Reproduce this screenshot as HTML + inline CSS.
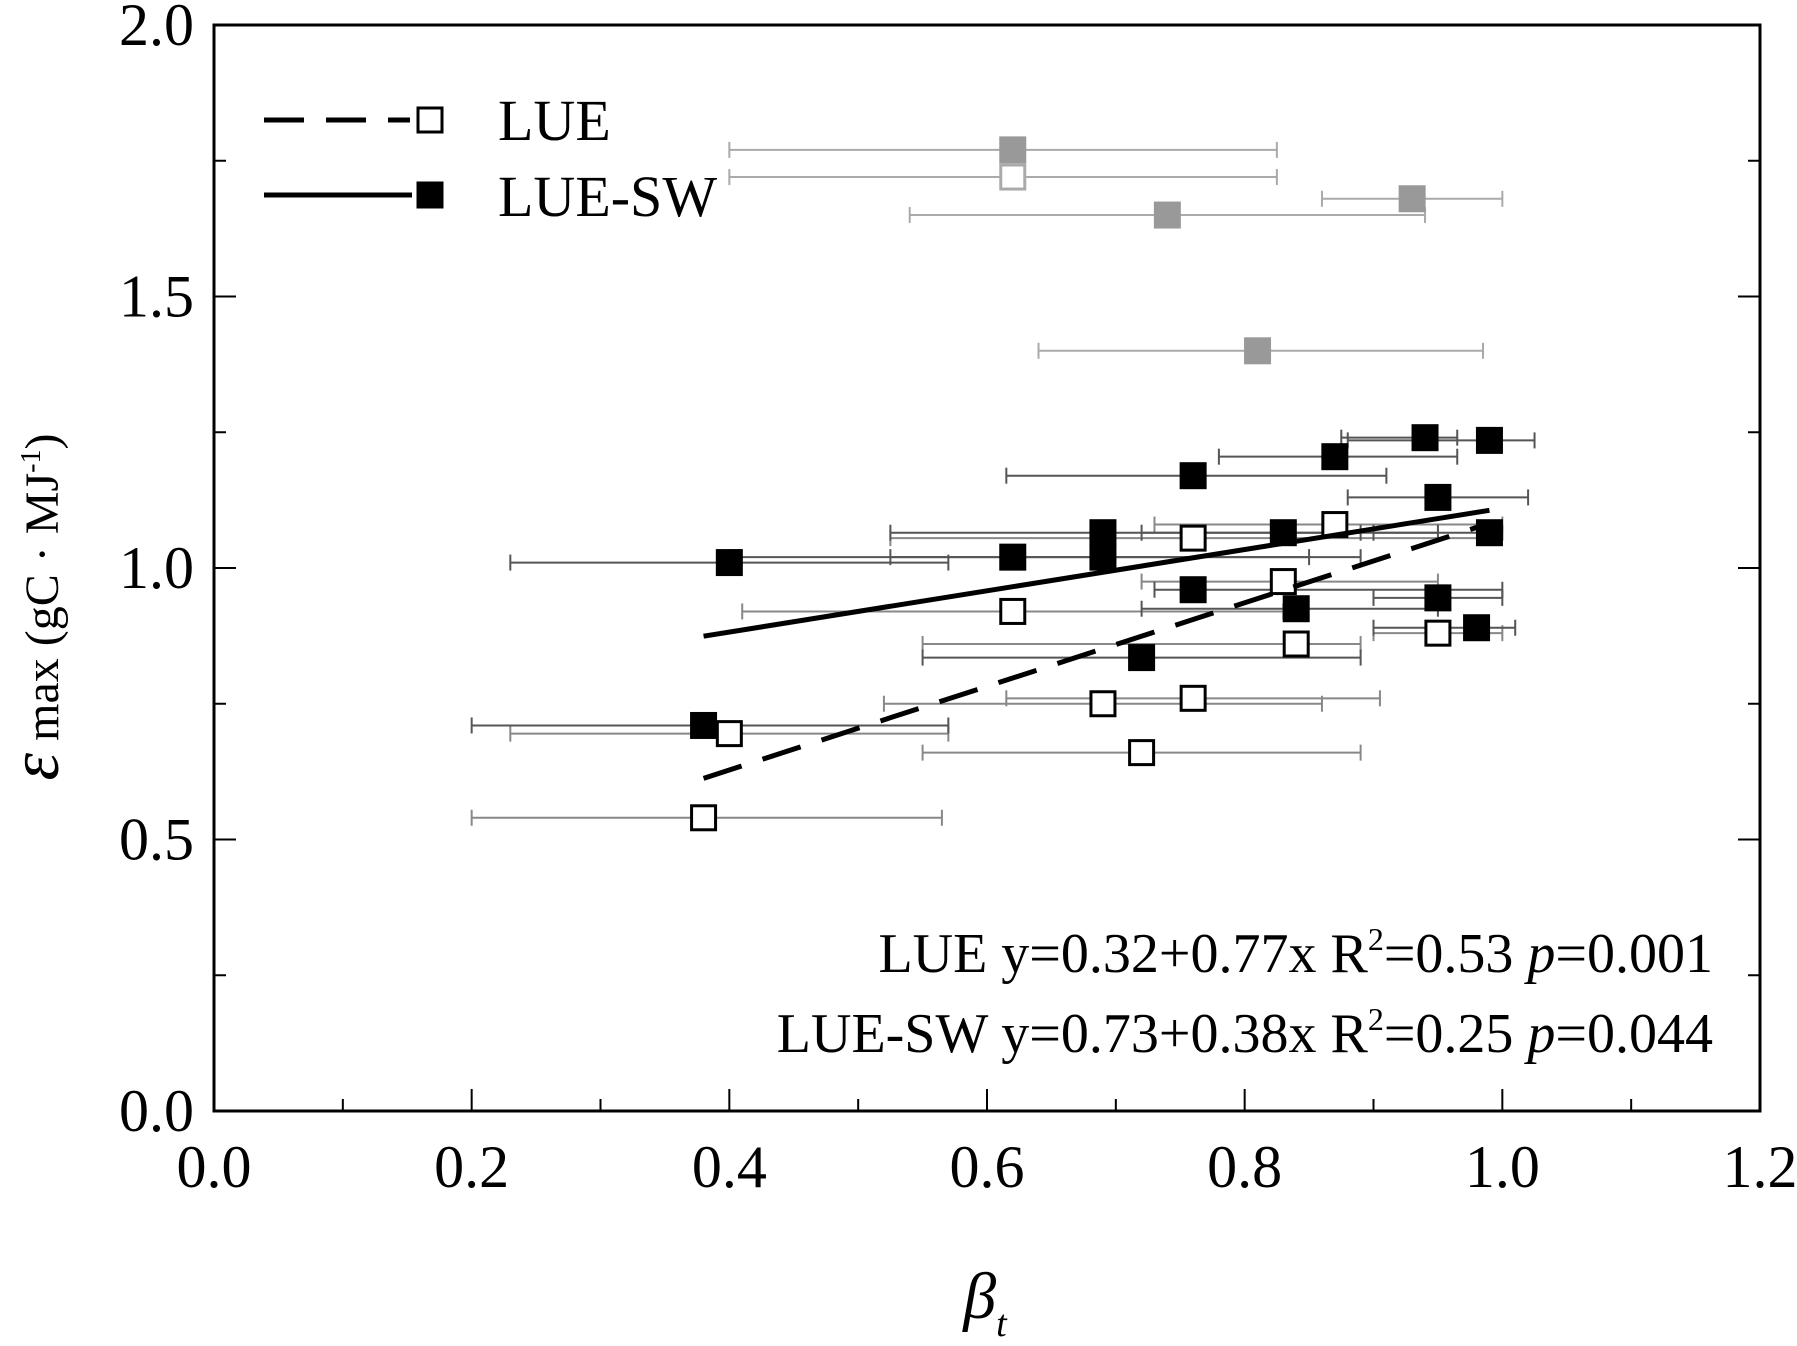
<!DOCTYPE html>
<html><head><meta charset="utf-8"><style>
html,body{margin:0;padding:0;background:#fff;}
svg{display:block;font-family:"Liberation Serif",serif;}
</style></head><body>
<svg id="chart" width="1797" height="1346" viewBox="0 0 1797 1346" xmlns="http://www.w3.org/2000/svg">
<g id="axes"></g>
<g id="marks"></g>
<g id="legend">
  <line x1="264" y1="120" x2="410" y2="120" stroke="#000" stroke-width="5" stroke-dasharray="40,22"/>
  <rect x="418" y="108" width="24" height="24" fill="#fff" stroke="#000" stroke-width="3"/>
  <text x="498" y="140" font-size="58">LUE</text>
  <line x1="264" y1="195" x2="412" y2="195" stroke="#000" stroke-width="5"/>
  <rect x="418" y="183" width="24" height="24" fill="#000" stroke="#000" stroke-width="3"/>
  <text x="498" y="216" font-size="58">LUE-SW</text>
</g>
<g font-size="56" text-anchor="end">
  <text x="1713" y="972">LUE y=0.32+0.77x R<tspan font-size="32" dy="-22">2</tspan><tspan dy="22">=0.53 </tspan><tspan font-style="italic">p</tspan>=0.001</text>
  <text x="1713" y="1052">LUE-SW y=0.73+0.38x R<tspan font-size="32" dy="-22">2</tspan><tspan dy="22">=0.25 </tspan><tspan font-style="italic">p</tspan>=0.044</text>
</g>
<text x="985" y="1318" font-size="66" font-style="italic" text-anchor="middle">β<tspan font-size="38" dy="18">t</tspan></text>
<g transform="translate(58 607) rotate(-90)">
  <text x="0" y="0" text-anchor="middle" font-size="48"><tspan font-size="70" font-style="italic">ε</tspan><tspan> max (gC · MJ</tspan><tspan font-size="28" dy="-18">-1</tspan><tspan dy="18">)</tspan></text>
</g>
</svg>
<script>
const xTicks=[0.0,0.2,0.4,0.6,0.8,1.0,1.2];
const yTicks=[0.0,0.5,1.0,1.5,2.0];
// LUE (open squares)
const lueX=[0.38,0.40,0.62,0.69,0.76,0.72,0.76,0.83,0.84,0.87,0.95];
const lueY=[0.54,0.695,0.92,0.75,0.76,0.66,1.055,0.975,0.86,1.08,0.88];
const lueLo=[0.20,0.23,0.41,0.52,0.615,0.55,0.525,0.72,0.55,0.73,0.90];
const lueHi=[0.565,0.57,0.83,0.86,0.905,0.89,0.99,0.95,0.89,1.0,1.0];
// LUE-SW (filled squares)
const swX=[0.38,0.40,0.62,0.69,0.69,0.72,0.76,0.76,0.83,0.84,0.87,0.94,0.99,0.95,0.99,0.95,0.98];
const swY=[0.71,1.01,1.02,1.065,1.02,0.835,1.17,0.96,1.065,0.925,1.205,1.24,1.235,1.13,1.065,0.945,0.89];
const swLo=[0.20,0.23,0.40,0.525,0.525,0.55,0.615,0.73,0.72,0.72,0.78,0.875,0.88,0.88,0.90,0.90,0.90];
const swHi=[0.57,0.57,0.85,0.89,0.89,0.89,0.91,1.0,0.95,0.95,0.965,0.965,1.025,1.02,1.0,1.0,1.01];
// outliers (gray)
const grayX=[0.62,0.74,0.93,0.81,0.62];
const grayY=[1.77,1.65,1.68,1.40,1.72];
const grayLo=[0.40,0.54,0.86,0.64,0.40];
const grayHi=[0.825,0.94,1.0,0.985,0.825];
const grayOpen=[false,false,false,false,true];
const lueFit=[0.32,0.77], swFit=[0.73,0.38], fitRange=[0.38,0.99];

const X0=214,X1=1760,Y0=1111,Y1=25;
const sx=v=>X0+(v-0)/1.2*(X1-X0);
const sy=v=>Y0-(v-0)/2.0*(Y0-Y1);
const NS='http://www.w3.org/2000/svg';
const axes=document.getElementById('axes'), marks=document.getElementById('marks');
function mk(tag,attrs,parent){const e=document.createElementNS(NS,tag);for(const k in attrs)e.setAttribute(k,attrs[k]);parent.appendChild(e);return e;}

let frame=mk('rect',{x:X0,y:Y1,width:X1-X0,height:Y0-Y1,fill:'none',stroke:'#000','stroke-width':3},axes);


for(let i=0;i<xTicks.length;i++){
  const v=xTicks[i];
  const t=mk('line',{x1:sx(v),x2:sx(v),y1:Y0,y2:Y0-22,stroke:'#000','stroke-width':2},axes);
  
  
  if(i<xTicks.length-1){const m=mk('line',{x1:sx(v+0.1),x2:sx(v+0.1),y1:Y0,y2:Y0-12,stroke:'#000','stroke-width':2},axes);
  
  }
  const l=mk('text',{x:sx(v),y:Y0+76,'font-size':60,'text-anchor':'middle'},axes);
  l.textContent=v.toFixed(1);
  
  
}
for(let i=0;i<yTicks.length;i++){
  const v=yTicks[i];
  [[X0,X0+22],[X1,X1-22]].forEach(p=>{const t=mk('line',{x1:p[0],x2:p[1],y1:sy(v),y2:sy(v),stroke:'#000','stroke-width':2},axes);
  
  });
  if(i<yTicks.length-1){[[X0,X0+12],[X1,X1-12]].forEach(p=>{const m=mk('line',{x1:p[0],x2:p[1],y1:sy(v+0.25),y2:sy(v+0.25),stroke:'#000','stroke-width':2},axes);
  
  });}
  const l=mk('text',{x:X0-20,y:sy(v)+20,'font-size':60,'text-anchor':'end'},axes);
  l.textContent=v.toFixed(1);
  
  
}
function errbar(x,lo,hi,y,col){
  const g=mk('g',{stroke:col,'stroke-width':2},marks);
  
  
  mk('line',{x1:sx(lo),x2:sx(hi),y1:sy(y),y2:sy(y)},g);
  mk('line',{x1:sx(lo),x2:sx(lo),y1:sy(y)-8,y2:sy(y)+8},g);
  mk('line',{x1:sx(hi),x2:sx(hi),y1:sy(y)-8,y2:sy(y)+8},g);
}
for(let i=0;i<grayX.length;i++) errbar(grayX[i],grayLo[i],grayHi[i],grayY[i],'#aaa');
for(let i=0;i<lueX.length;i++) errbar(lueX[i],lueLo[i],lueHi[i],lueY[i],'#888');
for(let i=0;i<swX.length;i++) errbar(swX[i],swLo[i],swHi[i],swY[i],'#555');
function fitLine(f,dash,name){
  const l=mk('line',{x1:sx(fitRange[0]),y1:sy(f[0]+f[1]*fitRange[0]),x2:sx(fitRange[1]),y2:sy(f[0]+f[1]*fitRange[1]),stroke:'#000','stroke-width':5},marks);
  if(dash) l.setAttribute('stroke-dasharray','40,22');
  
  
}
function sq(x,y,fill,stroke,name){
  const r=mk('rect',{x:sx(x)-12,y:sy(y)-12,width:24,height:24,fill:fill,stroke:stroke,'stroke-width':3},marks);
  
  
}
for(let i=0;i<grayX.length;i++) sq(grayX[i],grayY[i],grayOpen[i]?'#fff':'#999',grayOpen[i]?'#aaa':'#999','outlier-point');
for(let i=0;i<lueX.length;i++) sq(lueX[i],lueY[i],'#fff','#000','lue-point');
for(let i=0;i<swX.length;i++) sq(swX[i],swY[i],'#000','#000','luesw-point');
fitLine(lueFit,true,'lue-fit-line');
fitLine(swFit,false,'luesw-fit-line');
</script>
</body></html>
